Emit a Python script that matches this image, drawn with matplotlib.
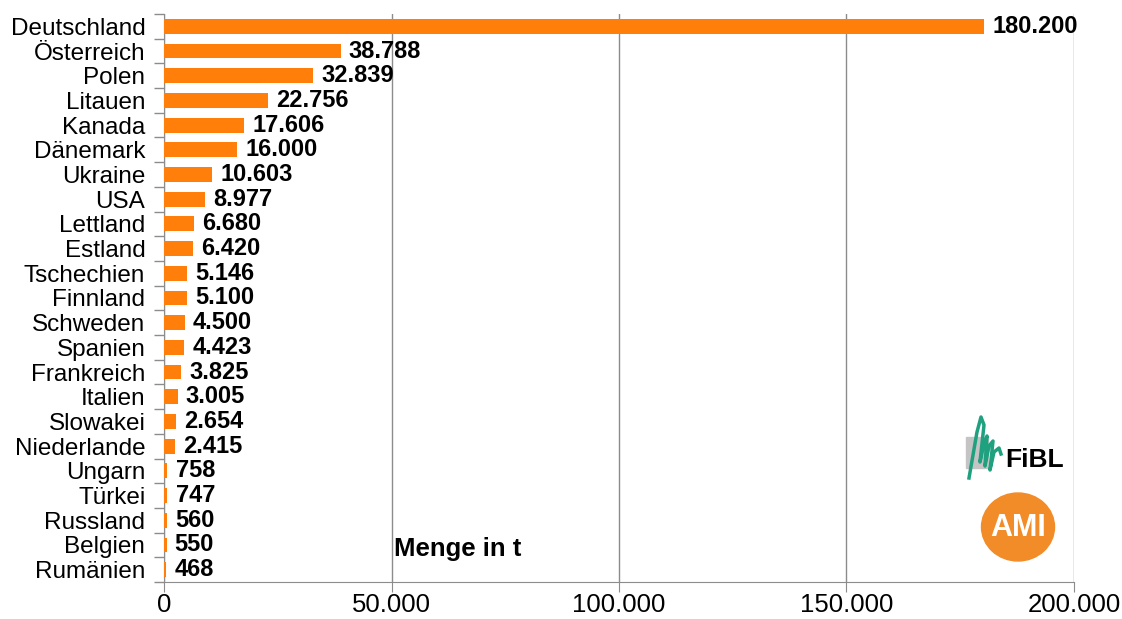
import numpy as np
import matplotlib.pyplot as plt
from matplotlib.patches import Ellipse, Rectangle
from matplotlib.ticker import FuncFormatter, FixedLocator

plt.rcParams['font.family'] = ['Liberation Sans', 'DejaVu Sans']

laender = ['Deutschland', 'Österreich', 'Polen', 'Litauen', 'Kanada', 'Dänemark',
           'Ukraine', 'USA', 'Lettland', 'Estland', 'Tschechien', 'Finnland',
           'Schweden', 'Spanien', 'Frankreich', 'Italien', 'Slowakei', 'Niederlande',
           'Ungarn', 'Türkei', 'Russland', 'Belgien', 'Rumänien']
menge = [180200, 38788, 32839, 22756, 17606, 16000, 10603, 8977, 6680, 6420,
         5146, 5100, 4500, 4423, 3825, 3005, 2654, 2415, 758, 747, 560, 550, 468]

orange = '#FF7F0A'
grau = '#8C8C8C'


def de_format(v):
    return f'{int(v):,}'.replace(',', '.')


fig = plt.figure(figsize=(11.22, 6.19), dpi=100)
ax = fig.add_axes([0.1462, 0.0598, 0.8110, 0.9176])

y = np.arange(len(laender))
ax.barh(y, menge, height=0.6, color=orange, zorder=3)
ax.set_ylim(len(laender) - 0.5, -0.5)
ax.set_xlim(0, 200000)

for yi, v in zip(y, menge):
    ax.text(v + 1800, yi, de_format(v), va='center', ha='left',
            fontsize=17, fontweight='bold', zorder=4)

ax.set_yticks(y)
ax.set_yticklabels(laender, fontsize=17.5)
ax.tick_params(axis='y', which='major', length=0, pad=13.5)
ax.yaxis.set_minor_locator(FixedLocator(np.arange(-0.5, len(laender), 1)))
ax.tick_params(axis='y', which='minor', length=7, color=grau, width=1)

ax.set_xticks([0, 50000, 100000, 150000, 200000])
ax.xaxis.set_major_formatter(FuncFormatter(lambda v, p: de_format(v)))
ax.tick_params(axis='x', length=7, color=grau, labelsize=18.5, pad=1)

ax.grid(axis='x', color=grau, linewidth=1, zorder=0)
for s in ['top', 'right']:
    ax.spines[s].set_visible(False)
for s in ['left', 'bottom']:
    ax.spines[s].set_color(grau)

ax.text(50500, 21.15, 'Menge in t', fontsize=18.5, fontweight='bold',
        ha='left', va='center')

# Logos unten rechts, Koordinaten in Pixeln
la = fig.add_axes([0, 0, 1, 1])
la.set_xlim(0, 1122)
la.set_ylim(619, 0)
la.axis('off')
la.add_patch(Rectangle((966, 437), 22, 31, color='#C4C4C4'))
la.plot([969, 973, 977, 981, 984, 980, 983, 987, 985, 989, 993, 990, 994, 999, 1001],
        [478, 455, 432, 417, 425, 462, 448, 436, 466, 446, 441, 470, 452, 448, 454],
        color='#1FA07F', linewidth=2.5)
la.text(1005, 460, 'FiBL', fontsize=19, fontweight='bold', ha='left', va='center')
la.add_patch(Ellipse((1018, 527), 73, 68, color='#F28C28'))
la.text(1018, 528, 'AMI', fontsize=22, fontweight='bold', color='white',
        ha='center', va='center')

fig.savefig('out.png', dpi=100)
